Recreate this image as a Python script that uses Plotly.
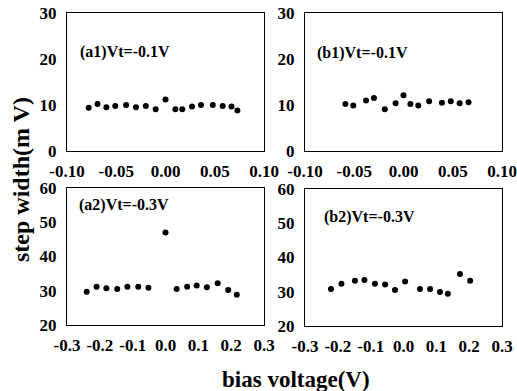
import plotly.graph_objects as go

# (a1) Vt=-0.1V
a1_x = [-0.078, -0.069, -0.060, -0.051, -0.040, -0.030, -0.020, -0.010, 0.000, 0.010,
        0.017, 0.027, 0.036, 0.048, 0.058, 0.067, 0.073]
a1_y = [9.4, 10.2, 9.5, 9.8, 10.0, 9.5, 9.8, 9.1, 11.2, 9.1, 9.1, 9.7, 10.0, 10.0, 9.8, 9.7, 8.8]
# (b1) Vt=-0.1V
b1_x = [-0.059, -0.051, -0.038, -0.030, -0.019, -0.008, 0.000, 0.007, 0.015, 0.026,
        0.039, 0.048, 0.057, 0.066]
b1_y = [10.2, 9.9, 11.0, 11.5, 9.1, 10.4, 12.1, 10.2, 9.9, 10.8, 10.5, 10.8, 10.4, 10.6]
# (a2) Vt=-0.3V
a2_x = [-0.240, -0.210, -0.180, -0.147, -0.116, -0.083, -0.052, 0.000, 0.034, 0.066,
        0.095, 0.126, 0.159, 0.191, 0.217]
a2_y = [29.7, 31.2, 30.7, 30.5, 31.2, 31.2, 30.9, 47.0, 30.5, 31.2, 31.5, 31.0, 32.2, 30.2, 28.8]
# (b2) Vt=-0.3V
b2_x = [-0.221, -0.189, -0.148, -0.119, -0.087, -0.056, -0.026, 0.005, 0.050, 0.081,
        0.111, 0.135, 0.172, 0.203]
b2_y = [30.8, 32.3, 33.2, 33.4, 32.3, 32.1, 30.5, 33.0, 30.8, 30.8, 29.9, 29.4, 35.2, 33.2]

labels = ["(a1)Vt=-0.1V", "(b1)Vt=-0.1V", "(a2)Vt=-0.3V", "(b2)Vt=-0.3V"]
top_xticks = [-0.10, -0.05, 0.00, 0.05, 0.10]
top_xticktext = ["-0.10", "-0.05", "0.00", "0.05", "0.10"]
bot_xticks = [-0.3, -0.2, -0.1, 0.0, 0.1, 0.2, 0.3]
bot_xticktext = ["-0.3", "-0.2", "-0.1", "0.0", "0.1", "0.2", "0.3"]
top_yticks = [0, 10, 20, 30]
bot_yticks = [20, 30, 40, 50, 60]

W, H = 517, 391
FONT = "Liberation Serif"

def px(x):
    return x / W

def py(y):
    return 1 - y / H

fig = go.Figure()
series = [(a1_x, a1_y), (b1_x, b1_y), (a2_x, a2_y), (b2_x, b2_y)]
for i, (xs, ys) in enumerate(series):
    n = "" if i == 0 else str(i + 1)
    fig.add_trace(go.Scatter(x=xs, y=ys, mode="markers", xaxis="x" + n, yaxis="y" + n,
                             marker=dict(color="black", size=6), showlegend=False))

boxes = [  # left, right, top, bottom in window pixels
    (67, 264, 13, 151),
    (305, 502, 13, 151),
    (67, 264, 188, 325),
    (305, 502, 189, 326),
]

tickfont = dict(family=FONT, size=17, color="black", weight="bold")
layout = {}
for i, (l, r, t, b) in enumerate(boxes):
    n = "" if i == 0 else str(i + 1)
    top = i < 2
    layout["xaxis" + n] = dict(
        domain=[px(l), px(r)], anchor="y" + n, automargin=False,
        range=[-0.1, 0.1] if top else [-0.3, 0.3],
        tickvals=top_xticks if top else bot_xticks,
        ticktext=top_xticktext if top else bot_xticktext,
        showline=True, linecolor="black", linewidth=1.3, mirror=True,
        showgrid=False, zeroline=False, ticks="outside", ticklen=4,
        tickcolor="rgba(0,0,0,0)", tickfont=tickfont,
    )
    layout["yaxis" + n] = dict(
        domain=[py(b), py(t)], anchor="x" + n, automargin=False,
        range=[0, 30] if top else [20, 60],
        tickvals=top_yticks if top else bot_yticks,
        showline=True, linecolor="black", linewidth=1.3, mirror=True,
        showgrid=False, zeroline=False, ticks="outside", ticklen=6,
        tickcolor="rgba(0,0,0,0)", tickfont=tickfont,
    )

ann_pos = [(78, 52), (315, 53), (77, 205), (322, 217)]
annotations = []
for (x, y), txt in zip(ann_pos, labels):
    annotations.append(dict(x=px(x), y=py(y), xref="paper", yref="paper", text="<b>%s</b>" % txt,
                            showarrow=False, xanchor="left", yanchor="middle",
                            font=dict(family=FONT, size=16, color="black")))
annotations.append(dict(x=px(296), y=py(379), xref="paper", yref="paper",
                        text="<b>bias voltage(V)</b>", showarrow=False,
                        xanchor="center", yanchor="middle",
                        font=dict(family=FONT, size=23, color="black")))
annotations.append(dict(x=px(21), y=py(180), xref="paper", yref="paper",
                        text="<b>step width(m V)</b>", showarrow=False, textangle=-90,
                        xanchor="center", yanchor="middle",
                        font=dict(family=FONT, size=24, color="black")))

fig.update_layout(width=W, height=H, margin=dict(l=0, r=0, t=0, b=0, autoexpand=False),
                  paper_bgcolor="white", plot_bgcolor="white",
                  annotations=annotations, font=dict(family=FONT, color="black"),
                  **layout)
fig.write_html("out.html", config={"displayModeBar": False},
               post_script="document.body.style.margin='0';document.body.style.overflow='hidden';")
